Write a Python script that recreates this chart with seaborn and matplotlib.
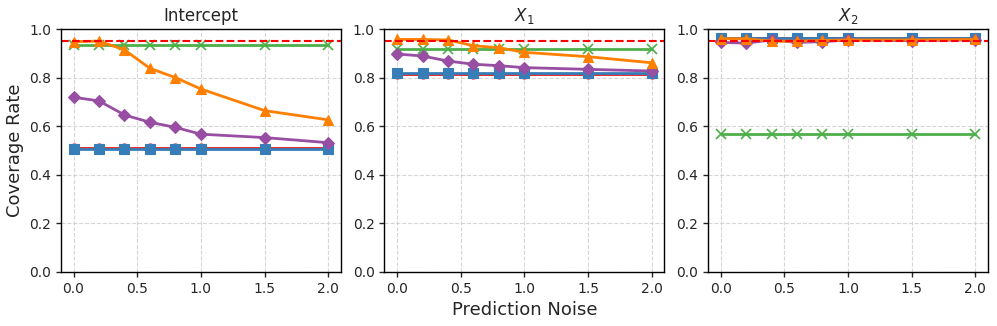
import numpy as np
import pandas as pd
import matplotlib
matplotlib.use("Agg")
import matplotlib.pyplot as plt
import seaborn as sns

noise = [0.0, 0.2, 0.4, 0.6, 0.8, 1.0, 1.5, 2.0]
panels = ["Intercept", "$X_1$", "$X_2$"]
target = 0.95

# series per panel: red(o), blue(s), green(x), purple(D), orange(^)
red_vals = [
    [0.512] * 8,
    [0.816] * 8,
    [0.962] * 8,
]
blue_vals = [
    [0.508] * 8,
    [0.820] * 8,
    [0.965] * 8,
]
green_vals = [
    [0.935] * 8,
    [0.918] * 8,
    [0.568] * 8,
]
purple_vals = [
    [0.719, 0.704, 0.646, 0.616, 0.595, 0.567, 0.553, 0.532],
    [0.897, 0.889, 0.868, 0.855, 0.849, 0.841, 0.834, 0.827],
    [0.945, 0.942, 0.955, 0.945, 0.948, 0.955, 0.952, 0.955],
]
orange_vals = [
    [0.948, 0.950, 0.914, 0.838, 0.800, 0.753, 0.664, 0.626],
    [0.957, 0.957, 0.955, 0.931, 0.923, 0.904, 0.886, 0.861],
    [0.960, 0.960, 0.950, 0.950, 0.953, 0.955, 0.955, 0.957],
]

series = [
    ("red", red_vals, "#e41a1c", "o"),
    ("blue", blue_vals, "#377eb8", "s"),
    ("green", green_vals, "#4daf4a", "x"),
    ("purple", purple_vals, "#984ea3", "D"),
    ("orange", orange_vals, "#ff7f00", "^"),
]

sns.set_style("white")
plt.rcParams["font.family"] = ["DejaVu Sans"]

fig, axes = plt.subplots(1, 3, figsize=(9.97, 3.26), dpi=100)
fig.subplots_adjust(left=0.061, right=0.991, bottom=0.166, top=0.911, wspace=0.155)

for i, ax in enumerate(axes):
    for name, vals, color, marker in series:
        df = pd.DataFrame({"noise": noise, "cov": vals[i]})
        sns.lineplot(data=df, x="noise", y="cov", ax=ax, color=color, marker=marker,
                     linewidth=2, markersize=6.5, markeredgecolor=color,
                     markeredgewidth=1.2 if marker == "x" else 0.8, legend=False)
    ax.axhline(target, color="red", linestyle="--", linewidth=1.5)
    ax.set_ylim(0, 1.0)
    ax.set_xlim(-0.1, 2.1)
    ax.set_xticks([0.0, 0.5, 1.0, 1.5, 2.0])
    ax.set_yticks([0.0, 0.2, 0.4, 0.6, 0.8, 1.0])
    ax.grid(True, linestyle="--", color="#cccccc", linewidth=0.8, alpha=0.8)
    ax.set_title(panels[i], fontsize=12)
    ax.set_xlabel("Prediction Noise" if i == 1 else "", fontsize=13)
    ax.set_ylabel("Coverage Rate" if i == 0 else "", fontsize=13)
    ax.tick_params(axis="both", which="both", direction="out", length=3.5, width=1,
                   labelsize=10, bottom=True, left=True)
    for s in ax.spines.values():
        s.set_color("black")
        s.set_linewidth(1)

fig.savefig("out.png", dpi=100)
